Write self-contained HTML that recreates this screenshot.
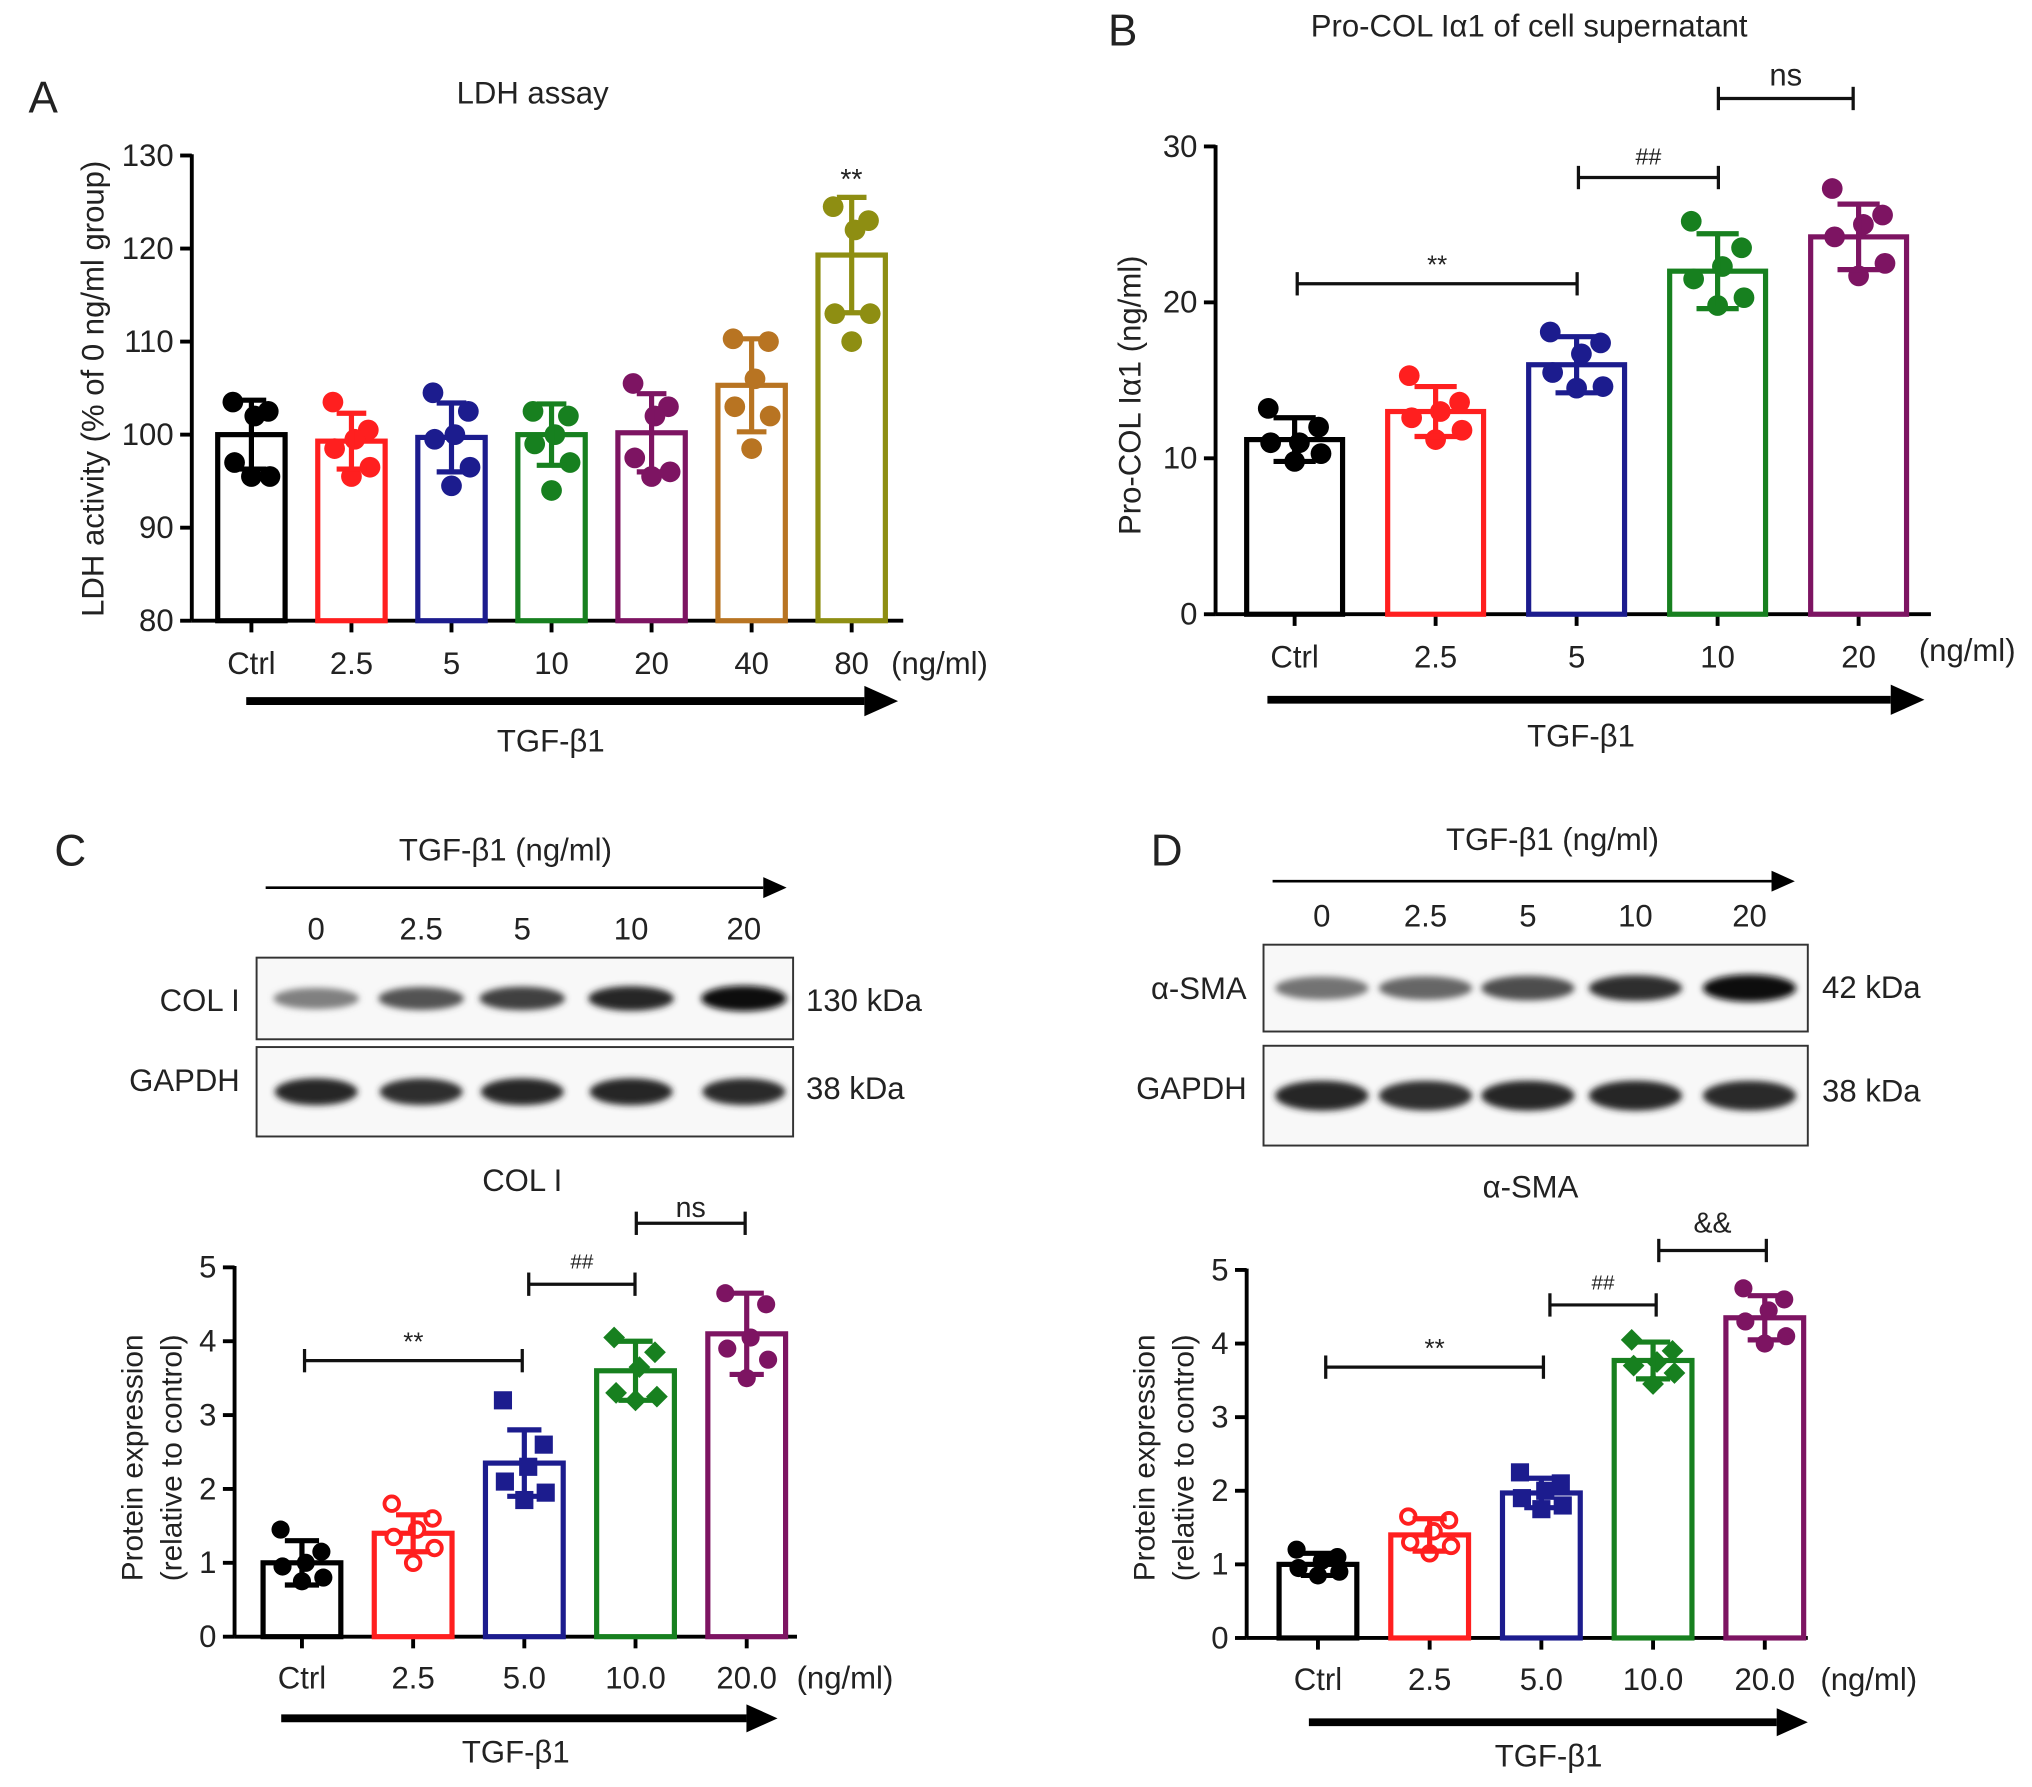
<!DOCTYPE html>
<html><head><meta charset="utf-8"><style>
html,body{margin:0;padding:0;background:#fff}
svg{display:block}
text{font-family:"Liberation Sans",Arial,sans-serif;fill:#222}
</style></head><body>
<svg id="fig" width="2032" height="1787" viewBox="0 0 1568 1379" preserveAspectRatio="none" xmlns="http://www.w3.org/2000/svg">
<defs><filter id="blur" x="-20%" y="-100%" width="140%" height="300%"><feGaussianBlur stdDeviation="2.5"/></filter></defs>
</svg>
<script>
// ---- data ----
const catsA = ["Ctrl","2.5","5","10","20","40","80"];
const meanA = [100,99.3,99.7,100,100.2,105.3,119.3];
const sdA = [3.7,3,3.7,3.3,4.2,5,6.2];
const ptsA = [[103.5,102.5,102,97,95.5,95.5],[103.5,100.5,99.5,98.5,96.5,95.5],[104.5,102.5,100,99.5,96.5,94.5],[102.5,102,100,99,97,94],[105.5,103,102,97.5,96,95.5],[110.3,110,106,103,102,98.5],[124.5,123,122,113,113,110]];
const ticksA = [80,90,100,110,120,130];

const catsB = ["Ctrl","2.5","5","10","20"];
const meanB = [11.2,13,16,22,24.2];
const sdB = [1.4,1.6,1.8,2.4,2.1];
const ptsB = [[13.2,12,11,11,10.3,9.8],[15.3,13.6,13,12.6,11.8,11.2],[18.1,17.4,16.7,15.5,14.6,14.5],[25.2,23.5,22.3,21.5,20.3,19.8],[27.3,25.6,25,24.2,22.5,21.7]];
const ticksB = [0,10,20,30];

const catsC = ["Ctrl","2.5","5.0","10.0","20.0"];
const meanC = [1.0,1.4,2.35,3.6,4.1];
const sdC = [0.3,0.25,0.45,0.4,0.55];
const ptsC = [[1.45,1.15,1.0,0.95,0.8,0.75],[1.8,1.6,1.45,1.35,1.2,1.0],[3.2,2.6,2.3,2.1,1.95,1.85],[4.05,3.85,3.65,3.3,3.25,3.2],[4.65,4.5,4.05,3.9,3.75,3.5]];
const meanD = [1.0,1.4,1.97,3.77,4.35];
const sdD = [0.15,0.22,0.2,0.25,0.3];
const ptsD = [[1.2,1.1,1.05,0.95,0.9,0.85],[1.65,1.6,1.45,1.3,1.25,1.15],[2.25,2.1,2.0,1.9,1.8,1.75],[4.05,3.9,3.75,3.7,3.6,3.45],[4.75,4.6,4.45,4.3,4.1,4.0]];
const ticksCD = [0,1,2,3,4,5];
const blotC = [0.5,0.68,0.75,0.85,0.95];
const blotD = [0.55,0.6,0.7,0.82,0.95];
const gapdh = [0.85,0.82,0.85,0.85,0.83];

const svg = document.getElementById('fig');
const NS = "http://www.w3.org/2000/svg";
function el(tag, attrs, parent, txt){
  const e = document.createElementNS(NS, tag);
  for (const k in attrs) e.setAttribute(k, attrs[k]);
  if (txt !== undefined) e.textContent = txt;
  (parent||svg).appendChild(e);
  return e;
}
function label(x,y,s,size,anchor,name,extra){
  const t = el('text', Object.assign({x:x,y:y,'font-size':size,'text-anchor':anchor||'middle'}, extra||{}), null, s);
  
  
  return t;
}
function arrow(x1,x2,y,w,head,name){
  const g = el('g',{});
  
  
  el('line',{x1:x1,y1:y,x2:x2-head,y2:y,stroke:'#000','stroke-width':w},g);
  el('polygon',{points:`${x2-head},${y-head*0.45} ${x2},${y} ${x2-head},${y+head*0.45}`,fill:'#000'},g);
}
function marker(g,shape,x,y,r,c){
  if(shape==='open') return el('circle',{cx:x,cy:y,r:r*0.8,fill:'#fff',stroke:c,'stroke-width':3},g);
  if(shape==='square') return el('rect',{x:x-r,y:y-r,width:2*r,height:2*r,fill:c},g);
  if(shape==='diamond') return el('polygon',{points:`${x},${y-r*1.2} ${x+r*1.2},${y} ${x},${y+r*1.2} ${x-r*1.2},${y}`,fill:c},g);
  return el('circle',{cx:x,cy:y,r:r,fill:c},g);
}
function chart(o){
  const g = el('g',{});
  
  
  const ys = v => o.y0 - (v - o.ticks[0])/(o.ticks[o.ticks.length-1]-o.ticks[0])*(o.y0-o.y1);
  const ax = el('g',{},g);
  
  
  el('line',{x1:o.ax,y1:o.y1-1,x2:o.ax,y2:o.y0,stroke:'#000','stroke-width':3},ax);
  o.ticks.forEach(t=>{
    el('line',{x1:o.ax-9,y1:ys(t),x2:o.ax,y2:ys(t),stroke:'#000','stroke-width':3},ax);
    const tl = el('text',{x:o.ax-14,y:ys(t)+8,'font-size':o.fs,'text-anchor':'end'},ax,String(t));
    
    
  });
  const xa = el('g',{},g);
  
  
  el('line',{x1:o.ax,y1:o.y0,x2:o.axEnd,y2:o.y0,stroke:'#000','stroke-width':3},xa);
  o.cats.forEach((c,i)=>{
    const cx = o.cx0 + i*o.step;
    el('line',{x1:cx,y1:o.y0,x2:cx,y2:o.y0+9,stroke:'#000','stroke-width':3},xa);
    const tl = el('text',{x:cx,y:o.tickY,'font-size':o.fs,'text-anchor':'middle'},xa,c);
    
    
  });
  o.means.forEach((m,i)=>{
    const cx = o.cx0 + i*o.step, c = o.colors[i];
    const bg = el('g',{},g);
    
    
    el('rect',{x:cx-o.bw/2,y:ys(m),width:o.bw,height:o.y0-ys(m),fill:'none',stroke:c,'stroke-width':4},bg);
    o.pts[i].forEach((p,j)=>{
      const off = [-0.55,0.5,0.1,-0.5,0.55,0][j]*o.bw*0.5;
      const mk = marker(bg,o.shapes[i],cx+off,ys(p),o.r,c);
      
      
    });
    const e = el('g',{},bg);
    
    
    const hi = ys(m+o.sds[i]), lo = ys(m-o.sds[i]), cw = o.bw*0.22;
    el('line',{x1:cx,y1:hi,x2:cx,y2:lo,stroke:c,'stroke-width':4},e);
    el('line',{x1:cx-cw,y1:hi,x2:cx+cw,y2:hi,stroke:c,'stroke-width':4},e);
    el('line',{x1:cx-cw,y1:lo,x2:cx+cw,y2:lo,stroke:c,'stroke-width':4},e);
  });
  (o.brackets||[]).forEach(b=>{
    const bg = el('g',{},g);
    
    
    el('line',{x1:b[0],y1:b[2],x2:b[1],y2:b[2],stroke:'#111','stroke-width':2.5},bg);
    el('line',{x1:b[0],y1:b[2]-9,x2:b[0],y2:b[2]+9,stroke:'#111','stroke-width':2.5},bg);
    el('line',{x1:b[1],y1:b[2]-9,x2:b[1],y2:b[2]+9,stroke:'#111','stroke-width':2.5},bg);
    const t = el('text',{x:(b[0]+b[1])/2,y:b[2]-b[4],'font-size':b[5],'text-anchor':'middle'},bg,b[3]);
    
    
  });
}
function blot(x,y,w,h,lanes,ints,bw,name){
  const g = el('g',{});
  
  
  el('rect',{x:x,y:y,width:w,height:h,fill:'#f8f8f8',stroke:'#333','stroke-width':1.5},g);
  lanes.forEach((lx,i)=>{
    const v = Math.round(255*(1-ints[i]));
    const b = el('ellipse',{cx:lx,cy:y+h/2,rx:bw,ry:h*0.1+ints[i]*h*0.06,fill:`rgb(${v},${v},${v})`,filter:'url(#blur)'},g);
    
    
  });
}
const c5 = ['#000','#ff1f1f','#1c1c8e','#17801f','#7d1462'];

// Panel A
label(22,87,'A',34,'start','panel-a-label');
label(411,80,'LDH assay',24,'middle','chart-a-title');
label(80,300,'LDH activity (% of 0 ng/ml group)',24,'middle','y-axis-title-a',{transform:'rotate(-90 80 300)'});
chart({name:'chart-a',ax:148,axEnd:697,y0:479,y1:120,ticks:ticksA,cats:catsA,means:meanA,sds:sdA,pts:ptsA,cx0:194,step:77.2,bw:52,r:8,fs:24,tickY:520,
  colors:['#000','#ff1f1f','#1c1c8e','#17801f','#7d1462','#b87422','#8e8e12'],shapes:['c','c','c','c','c','c','c']});
label(657,146,'**',22,'middle','significance-80');
label(725,520,'(ng/ml)',24,'middle','x-unit-a');
arrow(190,693,541,6,26,'tgf-arrow-a');
label(425,580,'TGF-β1',24,'middle','x-axis-title-a');

// Panel B
label(855,35,'B',34,'start','panel-b-label');
label(1180,28,'Pro-COL Iα1 of cell supernatant',24,'middle','chart-b-title');
label(880,305,'Pro-COL Iα1 (ng/ml)',24,'middle','y-axis-title-b',{transform:'rotate(-90 880 305)'});
chart({name:'chart-b',ax:938,axEnd:1490,y0:474,y1:113,ticks:ticksB,cats:catsB,means:meanB,sds:sdB,pts:ptsB,cx0:999,step:108.8,bw:74,r:8,fs:24,tickY:515,
  colors:c5,shapes:['c','c','c','c','c'],
  brackets:[[1001,1217,219,'**',8,20],[1218,1326,137,'##',10,18],[1326,1430,76,'ns',10,24]]});
label(1518,510,'(ng/ml)',24,'middle','x-unit-b');
arrow(978,1485,540,6,26,'tgf-arrow-b');
label(1220,576,'TGF-β1',24,'middle','x-axis-title-b');

// Panel C
label(42,668,'C',34,'start','panel-c-label');
label(390,664,'TGF-β1 (ng/ml)',24,'middle','blot-c-title');
arrow(205,607,685,2,18,'blot-c-arrow');
const lanesC=[244,325,403,487,574];
['0','2.5','5','10','20'].forEach((s,i)=>label(lanesC[i],725,s,24,'middle','lane-label'));
blot(198,739,414,63,lanesC,blotC,33,'blot-col1');
blot(198,808,414,69,lanesC,gapdh,32,'blot-gapdh-c');
label(185,780,'COL I',24,'end','blot-label-col1');
label(185,842,'GAPDH',24,'end','blot-label-gapdh-c');
label(622,780,'130 kDa',24,'start','kda-130');
label(622,848,'38 kDa',24,'start','kda-38-c');
label(403,919,'COL I',24,'middle','chart-c-title');
label(105,1120,'Protein expression',23,'middle','y-axis-title-c1',{transform:'rotate(-90 110 1120)'});
label(135,1120,'(relative to control)',23,'middle','y-axis-title-c2',{transform:'rotate(-90 140 1120)'});
chart({name:'chart-c',ax:181,axEnd:615,y0:1263,y1:978,ticks:ticksCD,cats:catsC,means:meanC,sds:sdC,pts:ptsC,cx0:233,step:85.8,bw:60,r:7,fs:24,tickY:1303,
  colors:c5,shapes:['c','open','square','diamond','c'],
  brackets:[[235,403,1050,'**',8,20],[408,490,991,'##',12,16],[491,575,944,'ns',5,22]]});
label(652,1303,'(ng/ml)',24,'middle','x-unit-c');
arrow(217,600,1326,6,24,'tgf-arrow-c');
label(398,1360,'TGF-β1',24,'middle','x-axis-title-c');

// Panel D
label(888,668,'D',34,'start','panel-d-label');
label(1198,656,'TGF-β1 (ng/ml)',24,'middle','blot-d-title');
arrow(982,1385,680,2,18,'blot-d-arrow');
const lanesD=[1020,1100,1179,1262,1350];
['0','2.5','5','10','20'].forEach((s,i)=>label(lanesD[i],715,s,24,'middle','lane-label'));
blot(975,729,420,67,lanesD,blotD,36,'blot-asma');
blot(975,807,420,77,lanesD,gapdh,36,'blot-gapdh-d');
label(962,771,'α-SMA',24,'end','blot-label-asma');
label(962,848,'GAPDH',24,'end','blot-label-gapdh-d');
label(1406,770,'42 kDa',24,'start','kda-42');
label(1406,850,'38 kDa',24,'start','kda-38-d');
label(1181,924,'α-SMA',24,'middle','chart-d-title');
label(886,1120,'Protein expression',23,'middle','y-axis-title-d1',{transform:'rotate(-90 891 1120)'});
label(916,1120,'(relative to control)',23,'middle','y-axis-title-d2',{transform:'rotate(-90 921 1120)'});
chart({name:'chart-d',ax:962,axEnd:1395,y0:1264,y1:980,ticks:ticksCD,cats:catsC,means:meanD,sds:sdD,pts:ptsD,cx0:1017,step:86.2,bw:60,r:7,fs:24,tickY:1304,
  colors:c5,shapes:['c','open','square','diamond','c'],
  brackets:[[1023,1191,1055,'**',8,20],[1196,1278,1007,'##',12,16],[1280,1363,965,'&&',14,22]]});
label(1442,1304,'(ng/ml)',24,'middle','x-unit-d');
arrow(1010,1395,1329,6,24,'tgf-arrow-d');
label(1195,1363,'TGF-β1',24,'middle','x-axis-title-d');
</script>
</body></html>
